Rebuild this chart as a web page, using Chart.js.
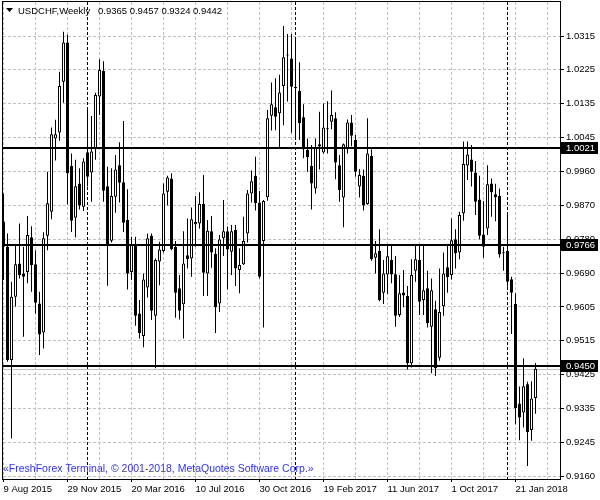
<!DOCTYPE html>
<html>
<head>
<meta charset="utf-8">
<script src="https://cdn.jsdelivr.net/npm/chart.js@4.4.1/dist/chart.umd.min.js"></script>
<style>
  html, body { margin: 0; padding: 0; background: #fff; }
  canvas { display: block; }
</style>
</head>
<body>
<canvas id="chart" width="600" height="500"></canvas>
<script>
"use strict";

// Weekly USDCHF candles, first bar = 9 Aug 2015
const opens = [
  0.9828, 0.9762, 0.9465, 0.9631, 0.9718, 0.9692, 0.9696, 0.9787, 0.9716, 0.9613,
  0.9537, 0.9791, 0.9854, 1.0046, 1.0062, 1.0195, 1.0298, 0.9974, 0.9838, 0.9928,
  0.9867, 1.0010, 0.9957, 1.0018, 1.0156, 1.0223, 0.9921, 0.9778, 0.9893, 0.9976,
  0.9931, 0.9832, 0.9696, 0.9769, 0.9587, 0.9528, 0.9655, 0.9791, 0.9581, 0.9723,
  0.9751, 0.9906, 0.9941, 0.9762, 0.9653, 0.9611, 0.9740, 0.9731, 0.9821, 0.9823,
  0.9874, 0.9692, 0.9803, 0.9743, 0.9613, 0.9784, 0.9803, 0.9749, 0.9806, 0.9701,
  0.9716, 0.9797, 0.9902, 0.9948, 0.9878, 0.9777, 0.9892, 1.0106, 1.0128, 1.0112,
  1.0184, 1.0264, 1.0256, 1.0181, 1.0171, 1.0102, 1.0016, 0.9974, 0.9915, 1.0031,
  1.0009, 1.0071, 1.0090, 1.0099, 0.9976, 0.9891, 1.0020, 1.0088, 1.0042, 0.9920,
  0.9948, 0.9874, 1.0000, 0.9733, 0.9751, 0.9641, 0.9689, 0.9727, 0.9690, 0.9583,
  0.9642, 0.9633, 0.9456, 0.9699, 0.9727, 0.9622, 0.9653, 0.9552, 0.9598, 0.9471,
  0.9606, 0.9708, 0.9688, 0.9782, 0.9747, 0.9850, 0.9975, 0.9991, 0.9957, 0.9886,
  0.9794, 0.9810, 0.9928, 0.9900, 0.9895, 0.9747, 0.9751, 0.9677, 0.9612, 0.9351,
  0.9327, 0.9401, 0.9281, 0.9365
];
const highs = [
  0.9902, 0.9797, 0.9670, 0.9769, 0.9823, 0.9762, 0.9843, 0.9816, 0.9753, 0.9644,
  0.9800, 0.9959, 1.0075, 1.0095, 1.0221, 1.0326, 1.0318, 1.0007, 0.9990, 0.9968,
  0.9994, 1.0122, 1.0105, 1.0166, 1.0254, 1.0249, 0.9972, 0.9968, 1.0003, 1.0036,
  1.0092, 0.9913, 0.9788, 0.9788, 0.9622, 0.9692, 0.9797, 0.9797, 0.9731, 0.9775,
  0.9928, 0.9948, 0.9955, 0.9777, 0.9688, 0.9803, 0.9836, 0.9865, 0.9895, 0.9905,
  0.9950, 0.9832, 0.9843, 0.9758, 0.9793, 0.9885, 0.9815, 0.9819, 0.9819, 0.9758,
  0.9841, 0.9911, 0.9962, 0.9998, 0.9908, 0.9885, 1.0121, 1.0193, 1.0204, 1.0213,
  1.0341, 1.0320, 1.0320, 1.0309, 1.0246, 1.0136, 1.0046, 1.0029, 1.0046, 1.0116,
  1.0138, 1.0144, 1.0172, 1.0115, 1.0003, 1.0033, 1.0096, 1.0108, 1.0055, 0.9966,
  0.9965, 1.0099, 1.0018, 0.9777, 0.9808, 0.9727, 0.9769, 0.9769, 0.9738, 0.9688,
  0.9701, 0.9659, 0.9729, 0.9764, 0.9769, 0.9769, 0.9699, 0.9679, 0.9620, 0.9705,
  0.9747, 0.9769, 0.9836, 0.9808, 0.9854, 1.0038, 1.0038, 1.0029, 0.9987, 0.9948,
  0.9882, 0.9976, 0.9941, 0.9927, 0.9915, 0.9762, 0.9852, 0.9683, 0.9640, 0.9395,
  0.9469, 0.9408, 0.9409, 0.9457
];
const lows = [
  0.9675, 0.9460, 0.9259, 0.9605, 0.9679, 0.9526, 0.9666, 0.9644, 0.9587, 0.9478,
  0.9495, 0.9753, 0.9834, 0.9988, 1.0040, 1.0140, 0.9873, 0.9801, 0.9786, 0.9860,
  0.9856, 0.9920, 0.9880, 0.9990, 1.0108, 0.9880, 0.9660, 0.9773, 0.9851, 0.9878,
  0.9801, 0.9650, 0.9675, 0.9555, 0.9521, 0.9498, 0.9629, 0.9570, 0.9443, 0.9661,
  0.9747, 0.9870, 0.9753, 0.9576, 0.9571, 0.9521, 0.9705, 0.9683, 0.9762, 0.9810,
  0.9633, 0.9633, 0.9707, 0.9536, 0.9591, 0.9738, 0.9650, 0.9688, 0.9659, 0.9640,
  0.9714, 0.9773, 0.9878, 0.9857, 0.9679, 0.9550, 0.9883, 1.0067, 1.0068, 1.0020,
  1.0081, 1.0143, 1.0061, 1.0046, 1.0042, 0.9994, 0.9959, 0.9860, 0.9902, 0.9965,
  1.0007, 1.0007, 1.0070, 0.9939, 0.9880, 0.9813, 1.0007, 1.0026, 0.9946, 0.9891,
  0.9857, 0.9872, 0.9725, 0.9692, 0.9619, 0.9612, 0.9638, 0.9666, 0.9552, 0.9578,
  0.9603, 0.9440, 0.9445, 0.9670, 0.9583, 0.9583, 0.9550, 0.9430, 0.9423, 0.9463,
  0.9581, 0.9641, 0.9676, 0.9705, 0.9729, 0.9830, 0.9937, 0.9920, 0.9845, 0.9782,
  0.9733, 0.9793, 0.9841, 0.9829, 0.9734, 0.9699, 0.9657, 0.9533, 0.9296, 0.9254,
  0.9288, 0.9187, 0.9253, 0.9324
];
const closes = [
  0.9762, 0.9465, 0.9631, 0.9716, 0.9688, 0.9683, 0.9793, 0.9714, 0.9615, 0.9532,
  0.9784, 0.9876, 1.0057, 1.0057, 1.0184, 1.0298, 0.9955, 0.9830, 0.9921, 0.9870,
  0.9986, 0.9946, 1.0012, 1.0160, 1.0226, 0.9909, 0.9769, 0.9895, 0.9965, 0.9930,
  0.9825, 0.9692, 0.9769, 0.9581, 0.9536, 0.9676, 0.9784, 0.9594, 0.9727, 0.9755,
  0.9902, 0.9944, 0.9756, 0.9641, 0.9594, 0.9718, 0.9729, 0.9834, 0.9827, 0.9874,
  0.9694, 0.9804, 0.9747, 0.9603, 0.9781, 0.9803, 0.9755, 0.9803, 0.9705, 0.9714,
  0.9777, 0.9902, 0.9934, 0.9876, 0.9683, 0.9882, 1.0099, 1.0136, 1.0103, 1.0167,
  1.0259, 1.0266, 1.0182, 1.0178, 1.0086, 1.0018, 0.9997, 0.9928, 1.0023, 1.0025,
  1.0075, 1.0070, 1.0108, 0.9983, 0.9911, 1.0031, 1.0088, 1.0053, 0.9959, 0.9950,
  0.9870, 1.0007, 0.9729, 0.9745, 0.9622, 0.9692, 0.9737, 0.9689, 0.9581, 0.9640,
  0.9634, 0.9456, 0.9688, 0.9729, 0.9618, 0.9648, 0.9561, 0.9648, 0.9443, 0.9591,
  0.9692, 0.9682, 0.9779, 0.9745, 0.9845, 0.9979, 1.0004, 0.9959, 0.9880, 0.9791,
  0.9762, 0.9926, 0.9905, 0.9892, 0.9742, 0.9745, 0.9670, 0.9641, 0.9338, 0.9314,
  0.9396, 0.9276, 0.9364, 0.9442
];

// x axis: a label every 16 weeks, a grid line every 8
const dateLabels = ["9 Aug 2015", "29 Nov 2015", "20 Mar 2016", "10 Jul 2016", "30 Oct 2016",
  "19 Feb 2017", "11 Jun 2017", "1 Oct 2017", "21 Jan 2018"];
const gridWeeks = [0, 8, 16, 24, 32, 40, 48, 56, 64, 72, 80, 88, 96, 104, 112, 120, 128, 136];
const yearStarts = [21, 73, 126]; // first bar of 2016, 2017, 2018

// y axis labels, bottom to top
const yTickLabels = ["0.9160", "0.9245", "0.9335", "0.9425", "0.9515", "0.9605", "0.9690",
  "0.9780", "0.9870", "0.9960", "1.0045", "1.0135", "1.0225", "1.0315"];

// horizontal levels and current bid
const levels = [1.0021, 0.9766, 0.9450];
const bid = 0.9442;

const yLo = Number(yTickLabels[0]);
const yHi = Number(yTickLabels[yTickLabels.length - 1]);
const yStep = (yHi - yLo) / (yTickLabels.length - 1);
const yTicks = yTickLabels.map((s, k) => yLo + k * yStep);
// plot spans y 2..479 px, grid step is 33.86 px
const yMax = yHi + (34 / 33.86) * yStep;
const yMin = yMax - (477 / 33.86) * yStep;

const font = { family: "Liberation Sans", size: 9.5 };

const wickData = highs.map((h, i) => ({ x: i, y: [lows[i], h] }));
const bodyData = opens.map((o, i) => ({ x: i, y: [o, closes[i]] }));

const decor = {
  id: "decor",
  beforeDatasetsDraw(chart) {
    const { ctx, chartArea: a, scales: { x, y } } = chart;
    ctx.save();
    // year separators
    ctx.strokeStyle = "#000";
    ctx.lineWidth = 1;
    ctx.setLineDash([3, 2]);
    yearStarts.forEach((w) => {
      const px = Math.floor(x.getPixelForValue(w)) + 0.5;
      ctx.beginPath();
      ctx.moveTo(px, a.top);
      ctx.lineTo(px, a.bottom);
      ctx.stroke();
    });
    // bid line
    ctx.setLineDash([]);
    ctx.strokeStyle = "#c0c0c0";
    const by = Math.round(y.getPixelForValue(bid)) + 0.5;
    ctx.beginPath();
    ctx.moveTo(a.left, by);
    ctx.lineTo(a.right, by);
    ctx.stroke();
    ctx.restore();
  },
  afterDatasetsDraw(chart) {
    const { ctx, chartArea: a, scales: { y } } = chart;
    ctx.save();
    ctx.strokeStyle = "#000";
    ctx.lineWidth = 2;
    levels.forEach((v) => {
      const py = Math.round(y.getPixelForValue(v));
      ctx.beginPath();
      ctx.moveTo(a.left, py);
      ctx.lineTo(a.right, py);
      ctx.stroke();
    });
    ctx.restore();
  },
  afterDraw(chart) {
    const { ctx, chartArea: a, scales: { y } } = chart;
    ctx.save();
    // frame
    ctx.strokeStyle = "#000";
    ctx.lineWidth = 1;
    ctx.strokeRect(a.left - 0.5, a.top - 0.5, a.right - a.left + 1, a.bottom - a.top + 1);

    ctx.font = "9.5px 'Liberation Sans'";
    ctx.textBaseline = "middle";
    // level price boxes on the axis
    levels.forEach((v) => {
      const py = Math.round(y.getPixelForValue(v));
      ctx.fillStyle = "#000";
      ctx.fillRect(a.right + 1, py - 6, 37, 12);
      ctx.fillStyle = "#fff";
      ctx.fillText(v.toFixed(4), a.right + 6, py);
    });

    // header
    const last = closes.length - 1;
    ctx.fillStyle = "#000";
    ctx.beginPath();
    ctx.moveTo(6, 8);
    ctx.lineTo(13, 8);
    ctx.lineTo(9.5, 12);
    ctx.closePath();
    ctx.fill();
    ctx.fillText("USDCHF,Weekly", 18, 11);
    ctx.fillText([opens[last], highs[last], lows[last], closes[last]].map((v) => v.toFixed(4)).join(" "), 98, 11);

    // copyright
    ctx.fillStyle = "#3030ff";
    ctx.font = "10.5px 'Liberation Sans'";
    ctx.fillText("\u00abFreshForex Terminal, \u00a9 2001-2018, MetaQuotes Software Corp.\u00bb", 3, 469);
    ctx.restore();
  }
};

new Chart(document.getElementById("chart"), {
  type: "bar",
  data: {
    datasets: [
      {
        data: wickData,
        backgroundColor: "#000",
        borderWidth: 0,
        barThickness: 1,
        inflateAmount: 0,
        grouped: false,
        clip: 0,
        order: 2
      },
      {
        data: bodyData,
        backgroundColor: bodyData.map((d, i) => (closes[i] >= opens[i] ? "#fff" : "#000")),
        borderColor: "#000",
        borderWidth: 1,
        borderSkipped: false,
        barThickness: 3,
        minBarLength: 1,
        inflateAmount: 0,
        grouped: false,
        clip: 0,
        order: 1
      }
    ]
  },
  options: {
    responsive: false,
    animation: false,
    layout: { padding: { left: 3, top: 2, right: 0, bottom: 1 } },
    plugins: { legend: { display: false }, tooltip: { enabled: false } },
    scales: {
      x: {
        type: "linear",
        offset: false,
        min: -0.125,
        max: 139.125,
        afterBuildTicks: (s) => { s.ticks = gridWeeks.map((v) => ({ value: v })); },
        afterFit: (s) => { s.height = 20; s.paddingLeft = 0; s.paddingRight = 0; },
        ticks: {
          autoSkip: false,
          maxRotation: 0,
          align: "start",
          padding: 2,
          color: "#000",
          font: font,
          callback: (v, i) => (i % 2 === 0 ? dateLabels[i / 2] : "")
        },
        grid: {
          offset: false,
          color: "#c0c0c0",
          tickLength: 3,
          tickColor: (c) => (c.index % 2 === 0 ? "#000" : "rgba(0,0,0,0)"),
          tickBorderDash: []
        },
        border: { display: false, dash: [3, 2] }
      },
      y: {
        position: "right",
        min: yMin,
        max: yMax,
        afterBuildTicks: (s) => { s.ticks = yTicks.map((v) => ({ value: v })); },
        afterFit: (s) => { s.width = 40; s.paddingTop = 0; s.paddingBottom = 0; },
        ticks: {
          padding: 2,
          color: "#000",
          font: font,
          callback: (v, i) => yTickLabels[i]
        },
        grid: { color: "#c0c0c0", tickLength: 4, tickColor: "#000", tickBorderDash: [] },
        border: { display: false, dash: [3, 2] }
      }
    }
  },
  plugins: [decor]
});
</script>
</body>
</html>
